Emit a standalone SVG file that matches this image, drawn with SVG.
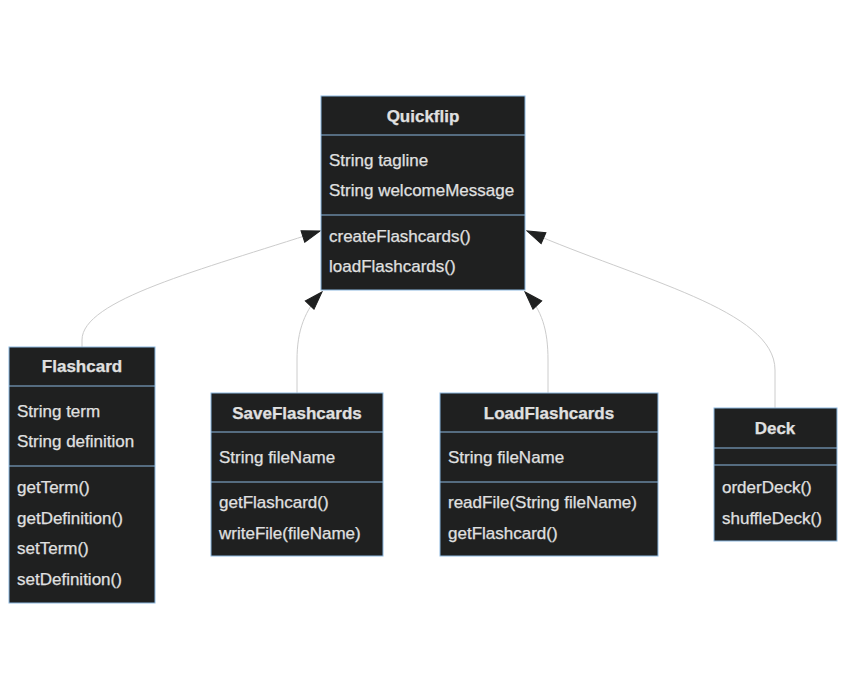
<svg xmlns="http://www.w3.org/2000/svg" width="846" height="699" viewBox="0 0 846 699">
<style>
.box{fill:#1f2020;stroke:#8cb8e0;stroke-width:1}
.div{stroke:#8cb8e0;stroke-width:1}
text{font-family:"Liberation Sans",Arial,sans-serif;font-size:17px;fill:#e0e0e0;stroke:#e0e0e0;stroke-width:0.25}
.t{font-weight:bold;text-anchor:middle}
.edge{fill:none;stroke:#cccccc;stroke-width:1}
</style>
<defs>
<marker id="tri" viewBox="0 0 20 14" refX="19" refY="7" markerWidth="20" markerHeight="14" markerUnits="userSpaceOnUse" orient="auto">
<path d="M1,1 L19,7 L1,13 Z" fill="#1f2020" stroke="#1f2020"/>
</marker>
</defs>
<rect width="846" height="699" fill="#ffffff"/>
<g id="connectors">
<path class="edge" d="M82,347 L82,340 C82,300 200,270 320,231" marker-end="url(#tri)"/>
<path class="edge" d="M297,393 L297,360 C297,330 305,310 322,292" marker-end="url(#tri)"/>
<path class="edge" d="M548,393 L548,360 C548,330 542,310 525,292" marker-end="url(#tri)"/>
<path class="edge" d="M775,408 L775,370 C775,310 640,280 527,231" marker-end="url(#tri)"/>
</g>
<g id="Quickflip">
<rect class="box" x="321" y="96" width="204" height="194"/>
<line class="div" x1="321" y1="135" x2="525" y2="135"/>
<line class="div" x1="321" y1="215" x2="525" y2="215"/>
<text class="t" x="423" y="122">Quickflip</text>
<text x="329" y="166">String tagline</text>
<text x="329" y="196">String welcomeMessage</text>
<text x="329" y="242">createFlashcards()</text>
<text x="329" y="272">loadFlashcards()</text>
</g>
<g id="Flashcard">
<rect class="box" x="9" y="347" width="146" height="256"/>
<line class="div" x1="9" y1="386" x2="155" y2="386"/>
<line class="div" x1="9" y1="466" x2="155" y2="466"/>
<text class="t" x="82" y="372">Flashcard</text>
<text x="17" y="417">String term</text>
<text x="17" y="447">String definition</text>
<text x="17" y="493">getTerm()</text>
<text x="17" y="524">getDefinition()</text>
<text x="17" y="554">setTerm()</text>
<text x="17" y="585">setDefinition()</text>
</g>
<g id="SaveFlashcards">
<rect class="box" x="211" y="393" width="172" height="163"/>
<line class="div" x1="211" y1="432" x2="383" y2="432"/>
<line class="div" x1="211" y1="482" x2="383" y2="482"/>
<text class="t" x="297" y="419">SaveFlashcards</text>
<text x="219" y="463">String fileName</text>
<text x="219" y="508">getFlashcard()</text>
<text x="219" y="539">writeFile(fileName)</text>
</g>
<g id="LoadFlashcards">
<rect class="box" x="440" y="393" width="218" height="163"/>
<line class="div" x1="440" y1="432" x2="658" y2="432"/>
<line class="div" x1="440" y1="482" x2="658" y2="482"/>
<text class="t" x="549" y="419">LoadFlashcards</text>
<text x="448" y="463">String fileName</text>
<text x="448" y="508">readFile(String fileName)</text>
<text x="448" y="539">getFlashcard()</text>
</g>
<g id="Deck">
<rect class="box" x="714" y="408" width="123" height="133"/>
<line class="div" x1="714" y1="448" x2="837" y2="448"/>
<line class="div" x1="714" y1="465" x2="837" y2="465"/>
<text class="t" x="775" y="434">Deck</text>
<text x="722" y="493">orderDeck()</text>
<text x="722" y="524">shuffleDeck()</text>
</g>
</svg>
